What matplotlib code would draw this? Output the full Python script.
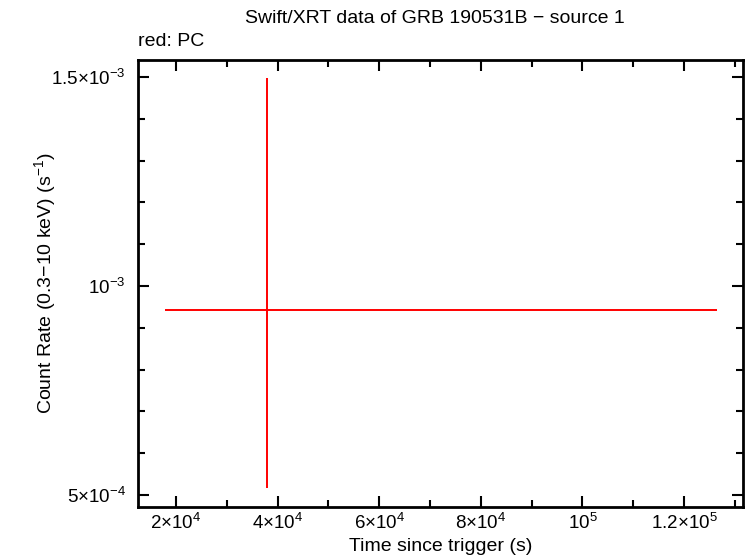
import matplotlib
matplotlib.use("Agg")
import matplotlib.pyplot as plt
from matplotlib.ticker import FixedLocator, MultipleLocator

plt.rcParams['font.family'] = ['Liberation Sans', 'DejaVu Sans']
plt.rcParams['mathtext.fontset'] = 'custom'
plt.rcParams['mathtext.rm'] = 'Liberation Sans'
plt.rcParams['mathtext.it'] = 'Liberation Sans'
plt.rcParams['mathtext.default'] = 'regular'

# PC mode data point
t = [37900.0]
t_lo = [17850.0]
t_hi = [126400.0]
rate = [9.43e-4]
rate_lo = [5.17e-4]
rate_hi = [1.497e-3]

x_ticks = [2e4, 4e4, 6e4, 8e4, 1e5, 1.2e5]
x_labels = [r'$2{\times}10^{4}$', r'$4{\times}10^{4}$', r'$6{\times}10^{4}$',
            r'$8{\times}10^{4}$', r'$10^{5}$', r'$1.2{\times}10^{5}$']
y_ticks = [5e-4, 1e-3, 1.5e-3]
y_labels = [r'$5{\times}10^{-4}$', r'$10^{-3}$', r'$1.5{\times}10^{-3}$']

fig = plt.figure(figsize=(7.46, 5.58), dpi=100)
ax = fig.add_axes([0.185, 0.0914, 0.811, 0.8011])

xerr = [[t[i] - t_lo[i] for i in range(len(t))], [t_hi[i] - t[i] for i in range(len(t))]]
yerr = [[rate[i] - rate_lo[i] for i in range(len(t))], [rate_hi[i] - rate[i] for i in range(len(t))]]
ax.errorbar(t, rate, xerr=xerr, yerr=yerr, fmt='none', ecolor='#ff0000', elinewidth=1.4, capsize=0)

ax.set_xlim(12520, 131600)
ax.set_ylim(4.713e-4, 1.5407e-3)

ax.xaxis.set_major_locator(FixedLocator(x_ticks))
ax.set_xticklabels(x_labels)
ax.xaxis.set_minor_locator(MultipleLocator(1e4))
ax.yaxis.set_major_locator(FixedLocator(y_ticks))
ax.set_yticklabels(y_labels)
ax.yaxis.set_minor_locator(MultipleLocator(1e-4))

ax.tick_params(which='both', direction='in', top=True, right=True, width=1.5, labelsize=13.5)
ax.tick_params(which='major', length=8)
ax.tick_params(which='minor', length=5)
ax.tick_params(axis='x', which='major', pad=4)
ax.tick_params(axis='y', which='major', pad=9)
for s in ax.spines.values():
    s.set_linewidth(2)

ax.set_xlabel('Time since trigger (s)', fontsize=14, va='center')
ax.xaxis.set_label_coords(0.5, -0.089)
ax.set_ylabel('Count Rate (0.3\u221210 keV) (s$^{-1}$)', fontsize=14, va='center')
ax.yaxis.set_label_coords(-0.154, 0.5)
fig.text(0.583, 0.966, 'Swift/XRT data of GRB 190531B \u2212 source 1', ha='center', va='center', fontsize=14)
fig.text(0.185, 0.925, 'red: PC', ha='left', va='center', fontsize=14)

fig.savefig('out.png', dpi=100)
